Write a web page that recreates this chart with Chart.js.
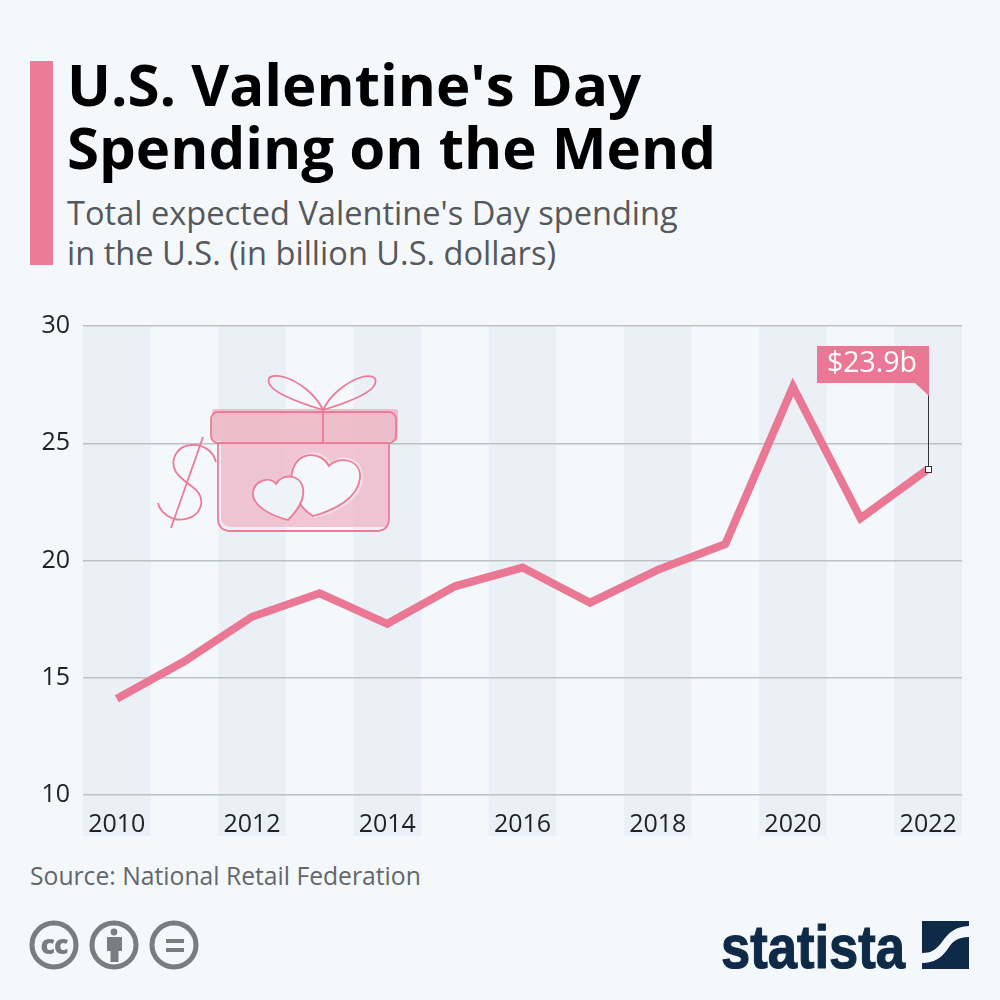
<!DOCTYPE html>
<html>
<head>
<meta charset="utf-8">
<script src="https://cdn.jsdelivr.net/npm/chart.js@4"></script>
<style>
  html, body { margin: 0; padding: 0; background: #f4f8fb; }
  #page { position: relative; width: 1000px; height: 1000px; overflow: hidden; font-family: "Open Sans", sans-serif; }
  #page > * { position: absolute; }
  #bar { left: 30px; top: 61px; width: 23px; height: 204px; background: #ec7b97; }
  #title { left: 67px; top: 52px; font-size: 58.2px; line-height: 63px; font-weight: 700; color: #000; white-space: nowrap; }
  #subtitle { left: 67px; top: 193px; font-size: 32.6px; line-height: 40px; color: #55595d; white-space: nowrap; }
  #source { left: 30px; top: 859px; font-size: 24.7px; line-height: 34px; color: #63676b; white-space: nowrap; }
  #chart { left: 0; top: 0; }
  #art { left: 0; top: 0; }
</style>
</head>
<body>
<div id="page">
  <div id="bar"></div>
  <div id="title">U.S. Valentine's Day<br>Spending on the Mend</div>
  <div id="subtitle">Total expected Valentine's Day spending<br>in the U.S. (in billion U.S. dollars)</div>
  <div id="source">Source: National Retail Federation</div>
  <canvas id="chart" width="1000" height="1000"></canvas>
  <svg id="art" width="1000" height="1000" viewBox="0 0 1000 1000">
    <!-- gift: soft fills sit slightly offset from the outlines -->
    <path d="M221 441 H388 V527 H232 Q221 527 221 516Z" fill="#f0bccb" fill-opacity=".85"/>
    <rect x="212" y="409" width="186" height="32" rx="3" fill="#eeb7c8" fill-opacity=".9"/>
    <path d="M331 463 C323 449 301 448 293 467 C288 480 296 504 315 518 C337 513 362 500 363 478 C364 456 339 453 331 463Z" fill="#f4dfe6"/>
    <path d="M276 487 C268 479 254 482 254 496 C253 509 272 519 289 523 C298 513 305 502 303 491 C300 477 282 476 276 487Z" fill="#efc6d2"/>
    <g stroke="#ec7b97" stroke-width="1.8" fill="none">
      <path d="M323 410 C300 403 272 393 269 383 C266 375 276 375 284 377 C300 382 316 395 323 410 C330 395 346 382 362 377 C370 375 378 376 375 384 C372 393 346 403 323 410Z"/>
      <path d="M218 443 V518 Q218 531 231 531 H376 Q389 531 389 518 V443"/>
      <rect x="211" y="412" width="185" height="31" rx="7"/>
      <path d="M323 410 V443"/>
      <path d="M329 466 C322 452 300 450 293 469 C288 482 296 506 313 516 C335 510 358 498 360 478 C361 458 337 456 329 466Z" fill="#f4f8fb"/>
      <path d="M276 484 C270 476 254 480 253 493 C252 506 272 516 288 520 C298 510 305 500 303 488 C300 474 282 473 276 484Z" fill="#eef3f8"/>
      <path d="M216 462 C213 450 202 444 191 445 C177 446 169 460 176 472 C184 485 204 488 201 505 C198 518 184 521 174 519 C165 516 159 509 158 503"/>
      <path d="M203 437 L171 528"/>
    </g>
    <!-- cc icons -->
    <g fill="none" stroke="#7a7c7f" stroke-width="5">
      <circle cx="54" cy="945" r="22"/>
      <circle cx="114" cy="945" r="22"/>
      <circle cx="174" cy="945" r="22"/>
    </g>
    <text x="54" y="954" text-anchor="middle" font-family="Open Sans" font-weight="800" font-size="27" letter-spacing="-1" fill="#7a7c7f">cc</text>
    <g fill="#7a7c7f">
      <circle cx="114" cy="932" r="3.4"/>
      <path d="M107 937 H122 V951 H118.500 V962 H110.500 V951 H107Z"/>
      <rect x="166" y="939" width="18" height="4"/>
      <rect x="166" y="948" width="18" height="4"/>
    </g>
    <!-- statista logo -->
    <text x="721" y="968" font-family="Liberation Sans Narrow, Liberation Sans" font-weight="700" font-size="62" textLength="184" lengthAdjust="spacingAndGlyphs" fill="#0f2a47" stroke="#0f2a47" stroke-width="1.2">statista</text>
    <path d="M922 921 H969 V926 C955 927 949 932 942 942 C936 950 931 953 922 953Z" fill="#0f2a47"/>
    <path d="M969 937 V969 H922 V963 C934 963 941 958 947 950 C952 942 957 937 969 937Z" fill="#0f2a47"/>
  </svg>
</div>
<script>
const years = ['2010', '2011', '2012', '2013', '2014', '2015', '2016', '2017', '2018', '2019', '2020', '2021', '2022'];
const spending = [14.1, 15.7, 17.6, 18.6, 17.3, 18.9, 19.7, 18.2, 19.6, 20.7, 27.4, 21.8, 23.9];
const yTicks = [10, 15, 20, 25, 30];
const calloutText = '$23.9b';

const pink = '#ea7895';

// alternating year stripes behind the line, running past the axis
const bandsPlugin = {
  id: 'bands',
  beforeDraw(chart) {
    const { ctx, chartArea, scales } = chart;
    const half = (scales.x.getPixelForValue(1) - scales.x.getPixelForValue(0)) / 2;
    ctx.save();
    ctx.fillStyle = '#ebf0f6';
    years.forEach((y, i) => {
      if (i % 2) return;
      const cx = scales.x.getPixelForValue(i);
      ctx.fillRect(cx - half, chartArea.top, half * 2, chartArea.height + 41);
    });
    ctx.restore();
  }
};

// the "$23.9b" flag on the last point
const calloutPlugin = {
  id: 'callout',
  afterDatasetsDraw(chart) {
    const { ctx, scales } = chart;
    const last = spending.length - 1;
    const px = Math.round(scales.x.getPixelForValue(last));
    const py = Math.round(scales.y.getPixelForValue(spending[last]));
    const boxTop = py - 123, boxBottom = boxTop + 37;
    ctx.save();
    ctx.strokeStyle = '#33373b';
    ctx.lineWidth = 1;
    ctx.beginPath();
    ctx.moveTo(px + 0.5, boxBottom);
    ctx.lineTo(px + 0.5, py);
    ctx.stroke();
    ctx.fillStyle = pink;
    ctx.beginPath();
    ctx.moveTo(px - 111, boxTop);
    ctx.lineTo(px + 1, boxTop);
    ctx.lineTo(px + 1, boxBottom + 13);
    ctx.lineTo(px - 13, boxBottom);
    ctx.lineTo(px - 111, boxBottom);
    ctx.closePath();
    ctx.fill();
    ctx.fillStyle = '#fff';
    ctx.fillRect(px - 2.5, py - 2.5, 6, 6);
    ctx.strokeRect(px - 2.5, py - 2.5, 6, 6);
    ctx.font = '28.5px "Open Sans"';
    ctx.textAlign = 'center';
    ctx.textBaseline = 'middle';
    ctx.fillText(calloutText, px - 56, boxTop + 18);
    ctx.restore();
  }
};

new Chart(document.getElementById('chart'), {
  type: 'line',
  data: {
    labels: years,
    datasets: [{
      data: spending,
      borderColor: pink,
      borderWidth: 8,
      borderJoinStyle: 'miter',
      borderCapStyle: 'butt',
      pointRadius: 0,
      tension: 0,
      fill: false,
    }],
  },
  options: {
    responsive: false,
    animation: false,
    devicePixelRatio: 1,
    layout: { padding: { top: 326, right: 38, bottom: 0, left: 0 } },
    plugins: { legend: { display: false }, tooltip: { enabled: false } },
    scales: {
      x: {
        offset: true,
        afterFit(s) { s.height = 205; },
        grid: { display: false },
        border: { display: false },
        ticks: {
          autoSkip: false,
          maxRotation: 0,
          padding: 7,
          color: '#222',
          font: { family: 'Open Sans', size: 25 },
          callback(v, i) { return i % 2 ? '' : years[i]; },
        },
      },
      y: {
        min: 10,
        max: 30,
        afterFit(s) { s.width = 83; },
        afterBuildTicks(s) { s.ticks = yTicks.map(value => ({ value })); },
        grid: { color: '#bcc1c6', lineWidth: 1.5, drawTicks: false },
        border: { display: false },
        ticks: {
          padding: 13,
          color: '#222',
          font: { family: 'Open Sans', size: 25 },
        },
      },
    },
  },
  plugins: [bandsPlugin, calloutPlugin],
});
</script>
</body>
</html>
